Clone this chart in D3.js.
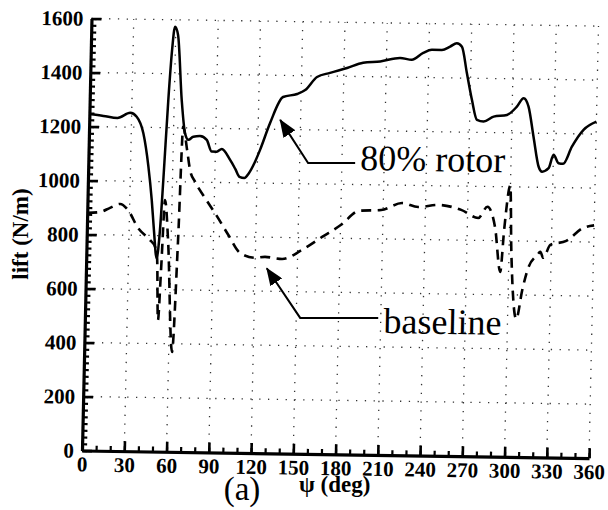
<!DOCTYPE html>
<html><head><meta charset="utf-8">
<script src="https://cdn.jsdelivr.net/npm/d3@7"></script>
<style>
html,body{margin:0;padding:0;background:#fff;}
svg{display:block;}
text{font-family:"Liberation Serif","Times New Roman",serif;}
</style></head>
<body><svg id="c" width="608" height="510"></svg>
<script>
// ---- data ----
const xTicks = [0,30,60,90,120,150,180,210,240,270,300,330,360];
const yTicks = [0,200,400,600,800,1000,1200,1400,1600];
const rotorPsi = [0,10,20,29,33.6,38.6,42.7,45.6,47.6,50,51.9,53.5,55.8,57.7,59.4,61.7,65.3,68.2,70.7,74.1,78.9,83.7,87.4,91,94.5,100.6,104.5,107.5,111,114,118,121.7,128.4,137.2,147.2,152.8,161,170.2,182.2,193.5,205.6,219.7,228,236,242.1,249.2,255,259.7,263.4,267.3,271.3,275.2,279.9,287,296.4,303.3,308,311.6,315.6,319.7,322.2,326.8,330.1,333.8,337,343,351,360];
const rotorLift = [1246,1240,1233,1253,1239,1178,1055,931,821,716,821,1006,1303,1488,1574,1544,1304,1180,1156,1168,1171,1157,1114,1114,1124,1084,1050,1022,1018,1035,1075,1123,1223,1320,1332,1347,1396,1412,1431,1451,1457,1471,1465,1491,1503,1503,1516,1529,1516,1419,1320,1246,1240,1259,1266,1297,1329,1298,1187,1076,1058,1071,1121,1090,1088,1152,1215,1246];
const basePsi = [0,9.1,16.1,23.2,28.9,36.3,45,48.7,50.3,51.9,53.3,55,57.8,62.4,64.9,66.7,69.9,72.3,76.1,83.4,91.5,100.4,109.2,119.9,126.9,139,153.1,167.1,180.4,193,208.6,223.4,234.8,249,265.4,277.6,284,289.8,294.1,296.2,299.9,301.6,306.2,310,313.9,320.1,322.2,324.4,329.2,340.5,352.3,360];
const baseLift = [880,884,900,915,893,827,783,758,717,487,673,932,784,370,785,1204,1119,1045,1001,942,880,807,740,723,727,720,755,804,850,903,907,934,920,929,912,883,925,847,684,840,1004,766,511,619,701,749,761,739,787,803,852,862];
const seriesLabels = ["80% rotor","baseline"];
// annotation anchors in data units [psi, lift]
const rotorNote = {tip:[135.5,1235], elbow:[156,1077], end:[189.4,1080], text:[193,1054]};
const baseNote  = {tip:[128.3,685], elbow:[152.8,503], end:[208.2,507], text:[212,452]};

// ---- chart ----
const svg = d3.select('#c');
const x = d3.scaleLinear().domain([0,360]).range([0,507]);
const y = d3.scaleLinear().domain([0,1600]).range([0,-432]);

// slight skew to match the scanned figure
const g = svg.append('g').attr('transform','translate(82,450.5) matrix(1,0.015,-0.022,1,0,0)');

// grid
const grid = g.append('g').attr('stroke','#333').attr('stroke-width',1.3).attr('stroke-dasharray','1.3,7.5').attr('fill','none');
grid.selectAll('line.v').data(xTicks.filter(d=>d>0)).join('line').attr('class','v')
  .attr('x1',d=>x(d)).attr('x2',d=>x(d)).attr('y1',y(0)).attr('y2',y(1600));
grid.selectAll('line.h').data(yTicks.filter(d=>d>0)).join('line').attr('class','h')
  .attr('x1',x(0)).attr('x2',x(360)).attr('y1',d=>y(d)).attr('y2',d=>y(d));

// minor ticks
const minorX = d3.axisBottom(x).tickValues(d3.range(0,361,10)).tickSize(-5).tickSizeOuter(0).tickFormat('');
const minorY = d3.axisLeft(y).tickValues(d3.range(0,1601,25)).tickSize(-5).tickSizeOuter(0).tickFormat('');
const mx = g.append('g').call(minorX); mx.selectAll('line').attr('stroke','#000').attr('stroke-width',2.2); mx.select('.domain').remove();
const my = g.append('g').call(minorY); my.selectAll('line').attr('stroke','#000').attr('stroke-width',2.2); my.select('.domain').remove();

// major axes
const fmt = d3.format('d');
const xAxis = d3.axisBottom(x).tickValues(xTicks).tickFormat(fmt).tickSize(-10).tickSizeOuter(0).tickPadding(6);
const yAxis = d3.axisLeft(y).tickValues(yTicks).tickFormat(fmt).tickSize(-10).tickSizeOuter(0).tickPadding(8);
const ax = g.append('g').call(xAxis);
const ay = g.append('g').call(yAxis);
[ax,ay].forEach(a=>{
  a.attr('font-family','Liberation Serif').attr('font-size',21);
  a.select('.domain').attr('stroke','#000').attr('stroke-width',3.2);
  a.selectAll('.tick line').attr('stroke','#000').attr('stroke-width',2.6);
  a.selectAll('.tick text').attr('fill','#000').style('font-family','"Liberation Serif",serif')
    .style('font-weight','bold').style('font-size','21px');
});

// lines
const line = d3.line().x(d=>x(d[0])).y(d=>y(d[1])).curve(d3.curveMonotoneX);
g.append('path').datum(d3.zip(basePsi,baseLift)).attr('d',line)
  .attr('fill','none').attr('stroke','#000').attr('stroke-width',2.6).attr('stroke-dasharray','10,6.5');
g.append('path').datum(d3.zip(rotorPsi,rotorLift)).attr('d',line)
  .attr('fill','none').attr('stroke','#000').attr('stroke-width',2.5);

// arrows
const defs = svg.append('defs');
defs.append('marker').attr('id','ah').attr('viewBox','0 0 18 14').attr('refX',17).attr('refY',7)
  .attr('markerWidth',18).attr('markerHeight',14).attr('markerUnits','userSpaceOnUse').attr('orient','auto')
  .append('path').attr('d','M0,0 L18,7 L0,14 Z').attr('fill','#000');
[[rotorNote,seriesLabels[0]],[baseNote,seriesLabels[1]]].forEach(([n,lab])=>{
  g.append('path').attr('d',d3.line()([[x(n.end[0]),y(n.end[1])],[x(n.elbow[0]),y(n.elbow[1])],[x(n.tip[0]),y(n.tip[1])]]))
    .attr('fill','none').attr('stroke','#000').attr('stroke-width',2).attr('marker-end','url(#ah)');
  g.append('text').attr('x',x(n.text[0])).attr('y',y(n.text[1])).text(lab)
    .style('font-size','36px').attr('fill','#000');
});

// titles
svg.append('text').attr('transform','translate(28,234) rotate(-90)').attr('text-anchor','middle')
  .style('font-weight','bold').style('font-size','23px').text('lift (N/m)');
svg.append('text').attr('x',242).attr('y',500).attr('text-anchor','middle').style('font-size','33px').text('(a)');
svg.append('text').attr('x',299).attr('y',492).style('font-weight','bold').style('font-size','23px').text('ψ (deg)');
</script></body></html>
